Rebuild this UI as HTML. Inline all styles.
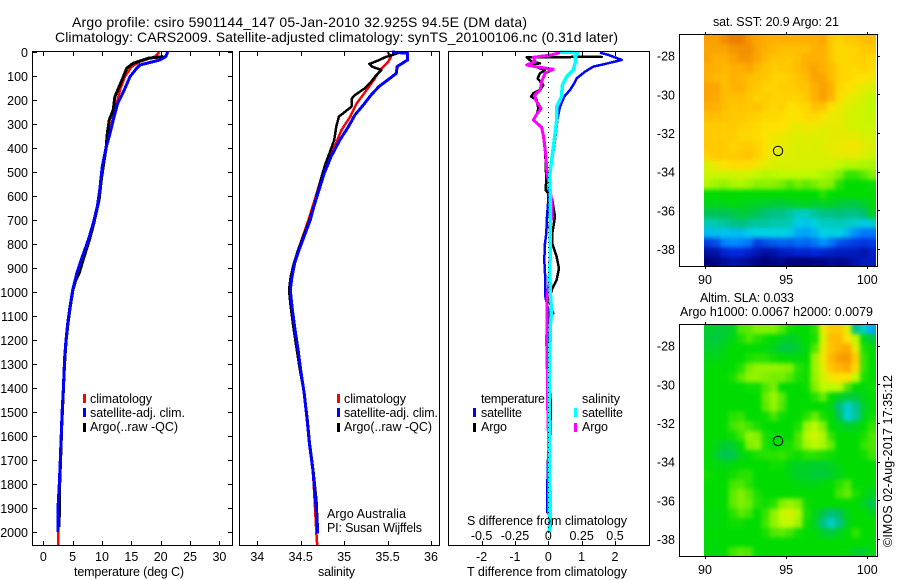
<!DOCTYPE html>
<html lang="en">
<head>
<meta charset="utf-8">
<title>Argo profile chart</title>
<style>
html,body{margin:0;padding:0;background:#fff;width:900px;height:580px;overflow:hidden}
svg{display:block}
text{font-family:"Liberation Sans",sans-serif;font-size:12.5px;fill:#000}
.t{font-size:14px}
</style>
</head>
<body>
<svg id="chart" width="900" height="580" viewBox="0 0 900 580" xmlns="http://www.w3.org/2000/svg">
  <defs>
    <filter id="smooth" x="-5%" y="-5%" width="110%" height="110%" color-interpolation-filters="sRGB">
      <feGaussianBlur stdDeviation="2"/>
      <feComponentTransfer><feFuncA type="linear" slope="8"/></feComponentTransfer>
    </filter>
    <clipPath id="sstClip"><rect x="704" y="35" width="172" height="231"/></clipPath>
    <clipPath id="slaClip"><rect x="704" y="325" width="172" height="231"/></clipPath>
  </defs>
  <rect x="0" y="0" width="900" height="580" fill="#fff"/>
  <g clip-path="url(#sstClip)"><g id="sstCells" filter="url(#smooth)"></g></g>
  <g clip-path="url(#slaClip)"><g id="slaCells" filter="url(#smooth)"></g></g>
  <g id="series"></g>
  <g id="axes"></g>

  <text class="t" x="72" y="27" textLength="455" lengthAdjust="spacing">Argo profile: csiro 5901144_147 05-Jan-2010 32.925S 94.5E (DM data)</text>
  <text class="t" x="55" y="42" textLength="563" lengthAdjust="spacing">Climatology: CARS2009. Satellite-adjusted climatology: synTS_20100106.nc (0.31d later)</text>

  <text x="74" y="576" textLength="110" lengthAdjust="spacing">temperature (deg C)</text>
  <text x="318" y="576" textLength="37" lengthAdjust="spacing">salinity</text>
  <text x="467" y="576" textLength="160" lengthAdjust="spacing">T difference from climatology</text>
  <text x="467" y="525" textLength="160" lengthAdjust="spacing">S difference from climatology</text>

  <g>
    <rect x="83" y="394" width="3" height="9" fill="#f00"/>
    <rect x="83" y="408" width="3" height="9" fill="#00f"/>
    <rect x="83" y="423" width="3" height="9" fill="#000"/>
    <text x="90" y="403" textLength="62" lengthAdjust="spacing">climatology</text>
    <text x="90" y="417" textLength="95" lengthAdjust="spacing">satellite-adj. clim.</text>
    <text x="90" y="431" textLength="88" lengthAdjust="spacing">Argo(..raw -QC)</text>
  </g>
  <g>
    <rect x="337" y="394" width="3" height="9" fill="#f00"/>
    <rect x="337" y="408" width="3" height="9" fill="#00f"/>
    <rect x="337" y="423" width="3" height="9" fill="#000"/>
    <text x="344" y="403" textLength="62" lengthAdjust="spacing">climatology</text>
    <text x="344" y="417" textLength="94" lengthAdjust="spacing">satellite-adj. clim.</text>
    <text x="344" y="431" textLength="88" lengthAdjust="spacing">Argo(..raw -QC)</text>
  </g>
  <text x="327" y="518" textLength="79" lengthAdjust="spacing">Argo Australia</text>
  <text x="327" y="532" textLength="95" lengthAdjust="spacing">PI: Susan Wijffels</text>

  <g>
    <text x="481" y="403" textLength="64" lengthAdjust="spacing">temperature</text>
    <rect x="473" y="408" width="3" height="9" fill="#00f"/>
    <rect x="473" y="423" width="3" height="9" fill="#000"/>
    <text x="481" y="417" textLength="41" lengthAdjust="spacing">satellite</text>
    <text x="481" y="431" textLength="26" lengthAdjust="spacing">Argo</text>
    <text x="582" y="403" textLength="38" lengthAdjust="spacing">salinity</text>
    <rect x="574" y="408" width="3" height="9" fill="#0ff"/>
    <rect x="574" y="423" width="3" height="9" fill="#f0f"/>
    <text x="582" y="417" textLength="41" lengthAdjust="spacing">satellite</text>
    <text x="582" y="431" textLength="26" lengthAdjust="spacing">Argo</text>
  </g>

  <text x="713" y="26" textLength="126" lengthAdjust="spacing">sat. SST: 20.9 Argo: 21</text>
  <text x="700" y="302" textLength="94" lengthAdjust="spacing">Altim. SLA: 0.033</text>
  <text x="680" y="316" textLength="193" lengthAdjust="spacing">Argo h1000: 0.0067 h2000: 0.0079</text>
  <text transform="translate(892,547) rotate(-90)" textLength="172" lengthAdjust="spacing">©IMOS 02-Aug-2017 17:35:12</text>
</svg>

<script>
// ---------- Chart data ----------
const depthTicks = [0,100,200,300,400,500,600,700,800,900,1000,1100,1200,1300,1400,1500,1600,1700,1800,1900,2000];
const tempTicks = [0,5,10,15,20,25,30];
const salTicks = [34,34.5,35,35.5,36];
const salTickLabels = ['34','34.5','35','35.5','36'];
const tDiffTicks = [-2,-1,0,1,2];
const tDiffTickLabels = ['-2','-1','0','1','2'];
const sDiffTicks = [-0.5,-0.25,0,0.25,0.5];
const sDiffTickLabels = ['-0.5','-0.25','0','0.25','0.5'];
const lonTicks = [90,95,100];
const latTicks = [-28,-30,-32,-34,-36,-38];
const floatLon = 94.5;
const floatLat = -32.925;

const tempClimDepth = [0,19,40,61,103,158,214,283,339,400,476,575,644,714,783,853,922,992,1061,1131,1200,1269,1339,1408,1500,1600,1700,1800,1900,2000,2054];
const tempClimVal = [19.76,19,16.5,15.06,13.9,13.06,12.5,11.8,11.25,10.7,10.05,9.6,9.2,8.5,7.67,6.6,5.65,5,4.55,4.15,3.87,3.64,3.53,3.41,3.2,3.05,2.9,2.7,2.5,2.5,2.5];
const tempSatDepth = [0,19,33,54,68,103,158,214,283,339,400,476,575,644,714,783,853,922,992,1061,1131,1200,1269,1339,1408,1500,1600,1700,1800,1900,2000];
const tempSatVal = [21.2,20.85,19.9,16.47,15.9,14.77,13.8,12.67,11.93,11.36,10.68,10.05,9.6,9.2,8.5,7.67,6.65,5.7,5,4.55,4.15,3.87,3.64,3.53,3.41,3.2,3.05,2.9,2.72,2.5,2.5];
const tempArgoDepth = [17,19,26,47,68,117,186,241,283,339,400,520,615,714,783,853,922,953,992,1061,1131,1200,1269,1339,1408,1500,1550,1700,1800,1900,1980];
const tempArgoVal = [20.4,20.45,17.9,15.3,14.2,13.4,12.2,11.9,11.25,10.9,10.7,9.95,9.5,8.6,7.85,6.95,6.1,5.5,5.05,4.6,4.2,3.9,3.7,3.55,3.42,3.25,3.15,2.95,2.8,2.75,2.7];

const salClimDepth = [0,19,40,68,117,158,214,269,325,394,464,533,617,700,825,881,936,992,1061,1144,1242,1325,1422,1519,1631,1742,1867,2006,2054];
const salClimVal = [35.5,35.54,35.51,35.43,35.34,35.26,35.145,35.07,34.97,34.89,34.8,34.73,34.66,34.59,34.47,34.42,34.39,34.38,34.4,34.43,34.47,34.5,34.54,34.57,34.6,34.64,34.66,34.68,34.69];
const salSatDepth = [0,6,33,40,61,89,117,144,179,221,262,311,367,436,506,575,644,700,825,881,936,992,1061,1144,1242,1325,1422,1519,1631,1742,1867,2006];
const salSatVal = [35.55,35.73,35.73,35.7,35.61,35.6,35.5,35.4,35.31,35.22,35.125,35.05,34.95,34.85,34.77,34.71,34.65,34.61,34.48,34.43,34.4,34.38,34.4,34.43,34.47,34.5,34.54,34.57,34.6,34.64,34.67,34.695];
const salArgoDepth = [5,22,36,50,61,75,96,124,151,179,193,228,269,311,367,422,471,533,617,700,825,881,936,992,1061,1144,1242,1325,1422,1519,1631,1742,1867,1980];
const salArgoVal = [35.62,35.47,35.39,35.29,35.32,35.43,35.37,35.31,35.24,35.125,35.09,35.085,34.94,34.91,34.885,34.83,34.78,34.73,34.67,34.6,34.47,34.42,34.385,34.365,34.385,34.415,34.455,34.49,34.54,34.575,34.605,34.645,34.68,34.695];

const tDiffSatDepth = [3,12,33,50,61,82,110,131,158,186,228,276,367,464,533,617,686,756,797,867,923,1013,1089,1152,1242,1367,1650,1860,1915,1930,2000];
const tDiffSatVal = [1.55,1.8,2.2,1.7,1.35,1.1,0.85,0.78,0.65,0.48,0.35,0.28,0.2,0.1,0.02,0,-0.04,-0.06,-0.1,-0.12,-0.1,-0.1,0.02,0.02,0.02,0.04,0,-0.04,-0.04,0.02,0.02];
const tDiffArgoDepth = [16,20,22,40,47,54,61,75,89,110,138,158,172,186,200,235,262,283,314,353,422,533,575,600,617,686,756,797,853,902,950,985,1034,1089,1095,1145,1367,1470,1600,2000];
const tDiffArgoVal = [1.6,1.6,-0.65,-0.5,-0.25,-0.55,-0.4,-0.1,-0.25,-0.32,-0.15,-0.25,-0.45,-0.52,-0.35,-0.3,-0.35,-0.45,-0.2,-0.15,-0.09,-0.06,-0.08,0.06,0.12,0.2,0.12,0.12,0.25,0.32,0.25,0.12,0.02,0.15,0.02,0.02,0.02,0.08,0.05,0.02];
const sDiffSatDepth = [0,3,14,20,40,75,103,138,186,228,283,367,450,519,603,728,797,923,1006,1075,1145,1367,2000];
const sDiffSatVal = [0.088,0.22,0.21,0.2,0.205,0.187,0.138,0.105,0.1,0.063,0.063,0.045,0.025,0.01,0.015,0.015,0.015,0.011,0.015,0.025,0.015,0.0075,0.0075];
const sDiffArgoDepth = [0,12,22,40,54,61,72,89,124,158,179,200,235,262,283,314,353,422,506,561,617,686,721,797,964,1020,1214,1367,1450,1850,1980];
const sDiffArgoVal = [0.1,0.025,-0.112,-0.1,-0.162,-0.1,0.037,-0.025,-0.05,-0.06,-0.1,-0.095,-0.055,-0.09,-0.112,-0.05,-0.035,-0.02,-0.01,0.01,0.025,0.03,0.01,0.015,0.005,-0.01,-0.012,-0.006,-0.006,0.012,0.015];

// Colour-scale levels (0 = navy … 10 = dark orange), one row per 0.5 deg latitude
const sstLevels = [
[9.3,9.3,9.7,10,10,9.5,9.2,9,9,9,9,9,9,9,9.2,8.5,8.3,8.5,8.5,8.7,8.7],
[9.2,9.2,9.2,9.5,9.6,9.6,9.2,9,8.8,8.7,8.7,8.7,8.7,9,9,8.5,8.2,8.2,8.3,8.5,8.5],
[9.2,9,9,9.2,9.5,9.5,9.2,8.8,8.6,8.6,8.5,8.7,9,9,8.9,8.5,8.2,8.2,8.3,8.3,8.2],
[9,9,8.8,9,9,9.2,8.8,8.6,8.4,8.5,8.5,8.8,9,9.2,9,8.7,8.3,8.2,8.2,8.3,8.1],
[9,8.8,8.7,9,8.9,8.7,8.6,8.5,8.3,8.3,8.4,8.6,8.8,9.2,9.2,8.7,8.3,8.2,8,8,7.8],
[9.2,9.2,8.7,8.9,9,8.6,8.5,8.3,8.3,8.4,8.4,8.5,8.6,9,9.3,9,8.2,8,7.8,7.6,7.4],
[9.2,9.1,8.7,8.7,8.7,8.5,8.3,8.4,8.3,8.3,8.3,8.3,8.5,9,9.3,8.9,8.1,7.7,7.5,7.4,7],
[9,9,8.7,8.5,8.6,8.5,8.6,8.4,8.2,8.3,8,8.1,8.2,8.6,8.6,8,7.7,7.5,7.3,7.2,7],
[8.7,8.7,8.6,8.5,8.5,8.4,8.3,8.2,8.2,8.1,7.9,8,8.1,8.2,7.9,7.7,7.6,7.4,7.3,7.2,7.1],
[8.5,8.5,8.4,8.5,8.3,8.3,8.2,8,8,8,7.8,7.6,7.8,7.7,7.6,7.6,7.6,7.4,7.3,7.2,7.2],
[8.5,8.4,8.4,8.4,8.2,8.2,8.1,7.9,7.8,7.7,7.6,7.5,7.5,7.5,7.5,7.6,7.6,7.6,7.6,7.4,7.3],
[8.5,8.5,8.4,8.3,8.4,8.4,8.3,7.9,7.7,7.6,7.5,7.4,7.5,7.4,7.5,7.6,7.7,7.8,7.8,7.6,7.4],
[8.3,8.5,8.4,8.4,8.5,8.6,8.3,7.9,7.6,7.5,7.5,7.4,7.4,7.4,7.4,7.5,7.6,7.6,7.6,7.4,7.2],
[7.4,7.8,8,8.1,8.1,8.1,7.8,7.5,7.4,7.4,7.4,7.4,7.3,7.3,7.3,7.3,7,6.8,6.8,6.7,6.6],
[7.2,7.2,7.2,7.2,7.3,7.2,7,6.8,6.9,7,7,7,7,7,6.7,6.5,6,5.4,5.4,5.7,6],
[6.8,6.4,6.3,6.6,6.7,6.5,6.1,6.2,6.1,5.9,5.6,5.9,5.7,5.9,6.2,6,5.3,5,5,5,5.1],
[5,5,5,5,5,5,5,5,5,5,5,5,5,5,5.3,5,5,5,5,5,5],
[4.8,4.8,4.8,4.9,4.8,4.7,4.7,4.6,4.5,4.5,4.6,4.7,4.8,4.6,4.7,4.7,4.5,4.4,4.4,4.6,4.9],
[4.2,4.2,4.2,4.3,4.5,4.4,4.2,3.9,3.8,3.8,3.6,3.3,3.3,3.6,3.8,3.8,3.9,3.8,3.8,4,4.7],
[3.4,3.5,3.6,3.8,3.9,3.7,3.6,3.6,3.5,3.5,3.4,2.9,2.8,3.1,3.3,3.3,3.4,3.3,3.2,2.9,3.2],
[2.7,2.7,2.8,2.7,2.7,2.9,3,3,3,3,2.9,2.4,2.3,2.6,3,3.1,3,2.6,2,1.8,1.8],
[1.2,1.4,1.9,2,1.9,1.8,1.2,1.4,1.5,1.6,1.5,1.7,1.6,1.8,2.1,1.8,1.4,1.3,1.2,1.1,1.2],
[0.4,0.5,0.9,1,1,0.8,0.6,0.4,0.5,0.7,0.8,0.9,0.9,1,0.9,0.8,0.7,0.7,0.7,0.5,0.8],
[0,0.1,0.3,0.5,0.4,0.3,0.1,0,0.1,0.2,0,0,0,0.1,0.1,0.3,0.2,0.3,0.5,0.7,0.7]
];
const slaLevels = [
[4.6,4.5,4.5,4.7,5.6,5.7,6,6,6,5.6,5.1,5,5,5.3,7.6,8.5,8.5,7.5,3.8,3.2,2.4],
[4.5,4.4,4.6,4.8,5.2,5.6,5.3,5.1,5,4.7,4.6,4.8,5,5.2,7.3,8.7,8.7,8,7,4.8,4.4],
[4.6,4.6,4.8,5,5,5,5,4.9,4.7,4.4,4.4,4.6,4.9,5.6,7.6,8.6,8.9,9.1,7.6,5.2,4.9],
[4.8,4.8,4.9,5,5,5.2,5.3,5.3,5.1,5,4.9,4.9,5,6.4,7.8,8.8,9.3,9.4,8.5,5.4,5],
[4.9,5,5,5,5.3,5.9,6.3,6.3,6.3,6.2,6,5.3,5.1,6.4,7.6,8.6,8.9,9.1,8.2,5.4,5],
[5,5,5,5.2,5.7,6.2,6.2,6,5.9,5.9,5.6,5.2,5.1,6.3,7.3,7.8,8,8,7,5.2,5],
[5,5,5,5,5,5.1,5.1,5.6,5.9,5,5,5,5.1,6,7,7,7,5.6,5,4.9,5.1],
[5,5,5,5,5,5,5,5.8,6.4,5.7,5,5,5,5.3,5.8,5,4.7,4.5,4.5,4.8,5],
[5,5,5,5,5,5,5,5.7,6.3,5.6,5,5,5,5,5,4.8,3.9,3.2,3.7,4.6,5],
[5,5,5,5.3,5.4,5,5,5.1,5.5,5.1,5,5,5.3,5.8,5.2,5,4.2,3.1,3.6,4.7,5.1],
[5,5,5,5.5,5.7,5.5,5.2,5,5,5,5,5.2,6.4,6.9,6,5,4.8,4.6,4.7,5,5.4],
[5,5,5,5.1,5.5,6.3,6,5.2,5,5,5,5.6,6.8,7.3,6.7,5.4,5,5,5,5.2,5.6],
[5,4.8,4.5,4.6,5,6,6.2,5.2,5,5.1,5.2,5.6,6.5,6.9,6.6,5.8,5,5,5,5.4,5.6],
[5,4.6,4.2,4.3,4.8,5,5.2,5.3,5.3,5.4,5.2,5.1,5.3,5.3,5.2,5.1,5,5,5,5.1,5.5],
[5,4.9,4.8,4.9,5,5,5,5,5.1,5.1,4.8,4.7,4.7,4.6,4.6,4.7,4.9,5,5,5,5],
[5.1,5,5,5.1,5.3,5.3,5,5,5,5,4.8,4.6,4.6,4.5,4.5,4.6,4.8,5,5,5,5],
[5,5,5,5.5,5.6,5.3,5,5,5,5,5,4.9,4.8,4.8,4.9,5,5.3,5.6,5,5,4.9],
[5,5,5,5.7,6,5.7,5.2,5,5,5,5,5,5,5,5,5,5.5,5.8,5.2,4.9,4.7],
[5,5,5,5.7,6,5.8,5.3,5.1,5.3,6,6.4,6,5.1,5,5,5,5,5,5,4.7,4.3],
[4.9,4.9,5,5.3,5.7,5.5,5,5.4,6.2,7.1,7.4,6.8,5.2,4.8,4.3,3.9,4.2,4.8,5,5,4.7],
[4.9,4.9,5,5.1,5.1,5,5,5.5,6.2,7,7.1,6.5,5.1,4.7,3.8,3.2,3.8,4.7,5,5,5],
[5,5,5,5,5,5,5,5.2,5.6,5.7,5.5,5.1,5,4.9,4.6,4.4,4.7,5,5.4,5,5],
[4.9,4.9,5,5,5,5,5,5,5,5,5,5,5,5,5,5,5,5,5,5,4.9],
[4.9,4.9,5,5.5,5.7,5.6,5,5,5,5,5,5,5,5,5,5,5,4.9,4.6,4.6,4.9]
];

// ---------- Axis functions ----------
const yDepth = d => 52 + 0.24 * d;
const xTemp = v => 43.3 + 5.87 * v;
const xSal = v => 257.3 + 86.85 * (v - 34);
const xTDiff = v => 548.3 + 33.35 * v;
const xSDiff = v => 548.3 + 133.4 * v;
const xLon = v => 705 + 16.23 * (v - 90);
const ySst = v => 55.7 + 19.33 * (-28 - v);
const ySla = v => 345.7 + 19.33 * (-28 - v);

const NS = 'http://www.w3.org/2000/svg';
const seriesG = document.getElementById('series');
const axesG = document.getElementById('axes');
function mk(parent, tag, props) {
  const e = document.createElementNS(NS, tag);
  for (const k in props) e.setAttribute(k, props[k]);
  parent.appendChild(e);
  return e;
}

// ---------- Profile lines ----------
function profile(xf, depths, vals, color, width) {
  const pts = depths.map((d, i) => xf(vals[i]).toFixed(1) + ',' + yDepth(d).toFixed(1)).join(' ');
  return mk(seriesG, 'polyline', {points: pts, fill: 'none', stroke: color, 'stroke-width': width, 'stroke-linejoin': 'round', 'shape-rendering': 'crispEdges'});
}
let ln;
ln = profile(xTemp, tempClimDepth, tempClimVal, '#f00', 2.5);


ln = profile(xTemp, tempArgoDepth, tempArgoVal, '#000', 3);


ln = profile(xTemp, tempSatDepth, tempSatVal, '#00f', 3);


ln = profile(xSal, salClimDepth, salClimVal, '#f00', 2.5);


ln = profile(xSal, salArgoDepth, salArgoVal, '#000', 2.5);


ln = profile(xSal, salSatDepth, salSatVal, '#00f', 3);


ln = profile(xTDiff, tDiffArgoDepth, tDiffArgoVal, '#000', 2.5);


ln = profile(xTDiff, tDiffSatDepth, tDiffSatVal, '#00f', 2.5);


ln = profile(xSDiff, sDiffArgoDepth, sDiffArgoVal, '#f0f', 3);


ln = profile(xSDiff, sDiffSatDepth, sDiffSatVal, '#0ff', 3.5);



const zeroLine = mk(seriesG, 'line', {x1: 548.5, x2: 548.5, y1: 52, y2: 545, stroke: '#000', 'stroke-width': 1, 'stroke-dasharray': '1 4', 'shape-rendering': 'crispEdges'});



// ---------- Line-panel frames, ticks, labels ----------
function frame(x0, x1, y0, y1) {
  return mk(axesG, 'rect', {x: x0, y: y0, width: x1 - x0, height: y1 - y0, fill: 'none', stroke: '#000', 'stroke-width': 1, 'shape-rendering': 'crispEdges'});
}
function tick(x1, y1, x2, y2) {
  return mk(axesG, 'line', {x1: x1, y1: y1, x2: x2, y2: y2, stroke: '#000', 'stroke-width': 1, 'shape-rendering': 'crispEdges'});
}
function label(x, y, str, anchor) {
  const t = mk(axesG, 'text', {x: x, y: y, 'text-anchor': anchor});
  t.textContent = str;
  return t;
}
let fr;
fr = frame(32.5, 232.5, 51.5, 545.5);


fr = frame(239.5, 439.5, 51.5, 545.5);


fr = frame(448.5, 649.5, 51.5, 545.5);


fr = frame(679.5, 877.5, 34.5, 266.5);


fr = frame(679.5, 877.5, 324.5, 556.5);



depthTicks.forEach(d => {
  const y = Math.round(yDepth(d)) + 0.5;
  const a = tick(33, y, 37, y);
  
  
  const b = tick(228, y, 232, y);
  
  
  const t = label(28, yDepth(d) + 5, String(d), 'end');
  
  
});
function xTicks(values, labels, xf, labelY, kind) {
  values.forEach((v, i) => {
    const x = Math.round(xf(v)) + 0.5;
    const a = tick(x, 52, x, 56);
    
    
    const b = tick(x, 541, x, 545);
    
    
    const t = label(xf(v), labelY, labels[i], 'middle');
    
    
  });
}
xTicks(tempTicks, tempTicks.map(String), xTemp, 561, 'temperature');
xTicks(salTicks, salTickLabels, xSal, 561, 'salinity');
xTicks(tDiffTicks, tDiffTickLabels, xTDiff, 561, 't-difference');
sDiffTicks.forEach((v, i) => {
  const t = label(xSDiff(v), 540, sDiffTickLabels[i], 'middle');
  
  
});

// ---------- Maps ----------
const stops = [[0,0,120],[0,40,220],[0,140,255],[0,210,230],[0,190,110],[0,220,0],[130,240,0],[190,250,0],[255,225,0],[255,175,0],[235,125,0]];
function levelColor(v) {
  const c = Math.max(0, Math.min(10, v));
  const i = Math.min(9, Math.floor(c));
  const f = c - i;
  const rgb = [0, 1, 2].map(k => Math.round(stops[i][k] + (stops[i + 1][k] - stops[i][k]) * f));
  return 'rgb(' + rgb.join(',') + ')';
}
function drawMap(target, levels, yf, kind) {
  const lonStep = 0.505;
  const latStep = 0.502;
  levels.forEach((row, r) => {
    row.forEach((v, c) => {
      const x0 = xLon(89.94 + c * lonStep);
      const x1 = xLon(89.94 + (c + 1) * lonStep);
      const y0 = yf(-26.88 - r * latStep);
      const y1 = yf(-26.88 - (r + 1) * latStep);
      const cell = mk(target, 'rect', {x: x0.toFixed(2), y: y0.toFixed(2), width: (x1 - x0 + 0.4).toFixed(2), height: (y1 - y0 + 0.4).toFixed(2), fill: levelColor(v), 'shape-rendering': 'crispEdges'});
      
      
    });
  });
}
drawMap(document.getElementById('sstCells'), sstLevels, ySst, 'sst-map');
drawMap(document.getElementById('slaCells'), slaLevels, ySla, 'sla-map');

function mapAxes(yf, top, bottom, labelY, kind) {
  latTicks.forEach(v => {
    const y = Math.round(yf(v)) + 0.5;
    const a = tick(878, y, 880, y);
    
    
    const t = label(675, yf(v) + 5, String(v), 'end');
    
    
  });
  lonTicks.forEach(v => {
    const x = Math.round(xLon(v)) + 0.5;
    const a = tick(x, top - 2, x, top);
    
    
    const b = tick(x, bottom, x, bottom + 2);
    
    
    const t = label(xLon(v), labelY, String(v), 'middle');
    
    
  });
  const marker = mk(axesG, 'circle', {cx: xLon(floatLon), cy: yf(floatLat), r: 4.7, fill: 'none', stroke: '#000', 'stroke-width': 1});
  
  
}
mapAxes(ySst, 34, 267, 284, 'sst-map');
mapAxes(ySla, 324, 557, 574, 'sla-map');
</script>
</body>
</html>
